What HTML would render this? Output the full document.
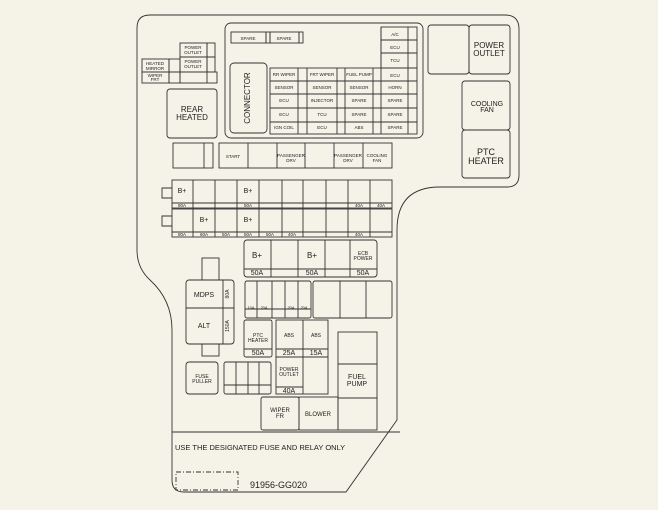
<!DOCTYPE html>
<html><head><meta charset="utf-8"><style>
html,body{margin:0;padding:0;background:#f5f2e7;}
svg{display:block}
text{font-family:"Liberation Sans",sans-serif;fill:#222;}
</style></head><body>
<svg width="658" height="510" viewBox="0 0 658 510" xmlns="http://www.w3.org/2000/svg">
<rect width="658" height="510" fill="#f5f2e7"/>
<g fill="none" stroke="#333" stroke-width="0.9">
<path d="M150,15 H505 Q519,15 519,29 V175 Q519,187 507,187 H440 Q397,187 397,230 V420 L346,492 H184 Q172,492 172,480 V330 Q172,300 150,280 Q137,268 137,250 V28 Q137,15 150,15 Z"/>
<line x1="172" y1="432" x2="400" y2="432"/>
<rect x="176" y="472" width="62" height="18" stroke-dasharray="5,2,1,2"/>
<rect x="225" y="23" width="198" height="115" rx="6"/>
<rect x="231" y="32" width="35" height="11"/><rect x="266" y="32" width="4" height="11"/>
<rect x="270" y="32" width="29" height="11"/><rect x="299" y="32" width="4" height="11"/>
<rect x="230" y="63" width="37" height="70" rx="4"/>
<rect x="270" y="68" width="147" height="66"/>
<path d="M270,81H417M270,94H417M270,108H417M270,122H417M298,68V134M307,68V134M337,68V134M345,68V134M373,68V134M381,27V134M408,27V134"/>
<rect x="381" y="27" width="36" height="41"/><path d="M381,40H417M381,53H417"/>
<rect x="428" y="25" width="41" height="49" rx="3"/><rect x="469" y="25" width="41" height="49" rx="3"/>
<rect x="462" y="81" width="48" height="49" rx="3"/><rect x="462" y="130" width="48" height="48" rx="3"/>
<rect x="180" y="43" width="27" height="14"/><rect x="207" y="43" width="8" height="14"/>
<rect x="180" y="57" width="27" height="15"/><rect x="207" y="57" width="8" height="15"/>
<rect x="142" y="59" width="27" height="13"/><rect x="169" y="59" width="11" height="13"/>
<rect x="142" y="72" width="27" height="11"/><rect x="169" y="72" width="11" height="11"/>
<rect x="180" y="72" width="37" height="11"/><line x1="207" y1="72" x2="207" y2="83"/>
<rect x="167" y="89" width="50" height="49" rx="3"/>
<rect x="173" y="143" width="40" height="25"/><line x1="204" y1="143" x2="204" y2="168"/>
<rect x="219" y="143" width="173" height="25"/>
<path d="M248,143V168M277,143V168M305,143V168M334,143V168M363,143V168"/>
<rect x="172" y="180" width="220" height="28"/><line x1="172" y1="203" x2="392" y2="203"/>
<rect x="172" y="209" width="220" height="28"/><line x1="172" y1="232" x2="392" y2="232"/>
<path d="M193,180V237M215,180V237M237,180V237M259,180V237M282,180V237M303,180V237M326,180V237M348,180V237M370,180V237"/>
<path d="M172,188H162V198H172M172,216H162V226H172"/>
<rect x="244" y="240" width="133" height="37" rx="3"/><line x1="244" y1="269" x2="377" y2="269"/>
<path d="M271,240V277M298,240V277M325,240V277M350,240V277"/>
<rect x="186" y="280" width="48" height="64" rx="3"/><path d="M223,280V344M186,308H234"/>
<rect x="202" y="258" width="17" height="22"/><rect x="202" y="344" width="17" height="12"/>
<rect x="245" y="281" width="66" height="37" rx="2"/><line x1="245" y1="309" x2="311" y2="309"/>
<path d="M257,281V318M272,281V318M285,281V318M298,281V318"/>
<rect x="313" y="281" width="79" height="37" rx="2"/><path d="M340,281V318M366,281V318"/>
<rect x="244" y="320" width="28" height="37" rx="2"/><line x1="244" y1="349" x2="272" y2="349"/>
<rect x="276" y="320" width="52" height="37"/><path d="M303,320V357M276,349H328"/>
<rect x="276" y="357" width="52" height="37"/><path d="M303,357V394M276,387H303"/>
<rect x="186" y="362" width="32" height="32" rx="3"/>
<rect x="224" y="362" width="47" height="32" rx="2"/><path d="M236,362V394M248,362V394M259,362V394M224,385H271"/>
<rect x="338" y="332" width="39" height="32"/><rect x="338" y="364" width="39" height="34"/>
<rect x="261" y="397" width="38" height="33" rx="2"/><rect x="299" y="397" width="39" height="33"/><rect x="338" y="398" width="39" height="32"/>
</g>
<g font-size="4.5" text-anchor="middle">
<text x="248" y="40">SPARE</text><text x="284" y="40">SPARE</text>
<text x="248" y="100" font-size="8" transform="rotate(-90 248 98)">CONNECTOR</text>
<text x="284" y="76">RR WIPER</text><text x="322" y="76">FRT WIPER</text><text x="359" y="76">FUEL PUMP</text><text x="395" y="77">ECU</text>
<text x="284" y="89">SENSOR</text><text x="322" y="89">SENSOR</text><text x="359" y="89">SENSOR</text><text x="395" y="89">HORN</text>
<text x="284" y="102">ECU</text><text x="322" y="102">INJECTOR</text><text x="359" y="102">SPARE</text><text x="395" y="102">SPARE</text>
<text x="284" y="116">ECU</text><text x="322" y="116">TCU</text><text x="359" y="116">SPARE</text><text x="395" y="116">SPARE</text>
<text x="284" y="129">IGN COIL</text><text x="322" y="129">ECU</text><text x="359" y="129">ABS</text><text x="395" y="129">SPARE</text>
<text x="395" y="36">A/C</text><text x="395" y="49">ECU</text><text x="395" y="62">TCU</text>
<text x="193" y="49">POWER</text><text x="193" y="54">OUTLET</text><text x="193" y="63">POWER</text><text x="193" y="68">OUTLET</text>
<text x="155" y="65">HEATED</text><text x="155" y="70">MIRROR</text><text x="155" y="77">WIPER</text><text x="155" y="81">FRT</text>
<text x="233" y="158">START</text><text x="291" y="157">PASSENGER</text><text x="291" y="162">DRV</text><text x="348" y="157">PASSENGER</text><text x="348" y="162">DRV</text><text x="377" y="157">COOLING</text><text x="377" y="162">FAN</text>
<text x="182" y="207">80A</text><text x="248" y="207">50A</text><text x="359" y="207">40A</text><text x="381" y="207">40A</text>
<text x="182" y="236">80A</text><text x="204" y="236">60A</text><text x="226" y="236">50A</text><text x="248" y="236">50A</text><text x="270" y="236">50A</text><text x="292" y="236">40A</text><text x="359" y="236">40A</text>
<text x="182" y="193" font-size="7">B+</text><text x="204" y="222" font-size="7">B+</text><text x="248" y="193" font-size="7">B+</text><text x="248" y="222" font-size="7">B+</text>
</g>
<g text-anchor="middle">
<text x="257" y="258" font-size="8">B+</text><text x="312" y="258" font-size="8">B+</text><text x="363" y="255" font-size="5">ECB</text><text x="363" y="260" font-size="5">POWER</text>
<text x="257" y="275" font-size="7">50A</text><text x="312" y="275" font-size="7">50A</text><text x="363" y="275" font-size="7">50A</text>
<text x="204" y="297" font-size="7">MDPS</text><text x="204" y="328" font-size="7">ALT</text>
<text x="229" y="294" font-size="5" transform="rotate(-90 229 294)">80A</text><text x="229" y="326" font-size="5" transform="rotate(-90 229 326)">150A</text>
<text x="258" y="337" font-size="5">PTC</text><text x="258" y="342" font-size="5">HEATER</text><text x="258" y="355" font-size="7">50A</text>
<text x="289" y="337" font-size="5">ABS</text><text x="316" y="337" font-size="5">ABS</text>
<text x="289" y="355" font-size="7">25A</text><text x="316" y="355" font-size="7">15A</text>
<text x="289" y="371" font-size="5">POWER</text><text x="289" y="376" font-size="5">OUTLET</text><text x="289" y="393" font-size="7">40A</text>
<text x="202" y="378" font-size="5">FUSE</text><text x="202" y="383" font-size="5">PULLER</text>
<text x="357" y="379" font-size="7">FUEL</text><text x="357" y="386" font-size="7">PUMP</text>
<text x="280" y="412" font-size="6">WIPER</text><text x="280" y="418" font-size="6">FR</text><text x="318" y="416" font-size="6">BLOWER</text>
<text x="192" y="112" font-size="8">REAR</text><text x="192" y="120" font-size="8">HEATED</text>
<text x="489" y="48" font-size="8">POWER</text><text x="489" y="56" font-size="8">OUTLET</text>
<text x="487" y="106" font-size="7">COOLING</text><text x="487" y="112" font-size="7">FAN</text>
<text x="486" y="155" font-size="9">PTC</text><text x="486" y="164" font-size="9">HEATER</text>
<text x="251" y="309" font-size="4">10A</text><text x="264" y="309" font-size="4">20A</text><text x="291" y="309" font-size="4">20A</text><text x="304" y="309" font-size="4">20A</text>
</g>
<text x="175" y="450" font-size="7.5">USE THE DESIGNATED FUSE AND RELAY ONLY</text>
<text x="250" y="488" font-size="9">91956-GG020</text>
</svg>
</body></html>
